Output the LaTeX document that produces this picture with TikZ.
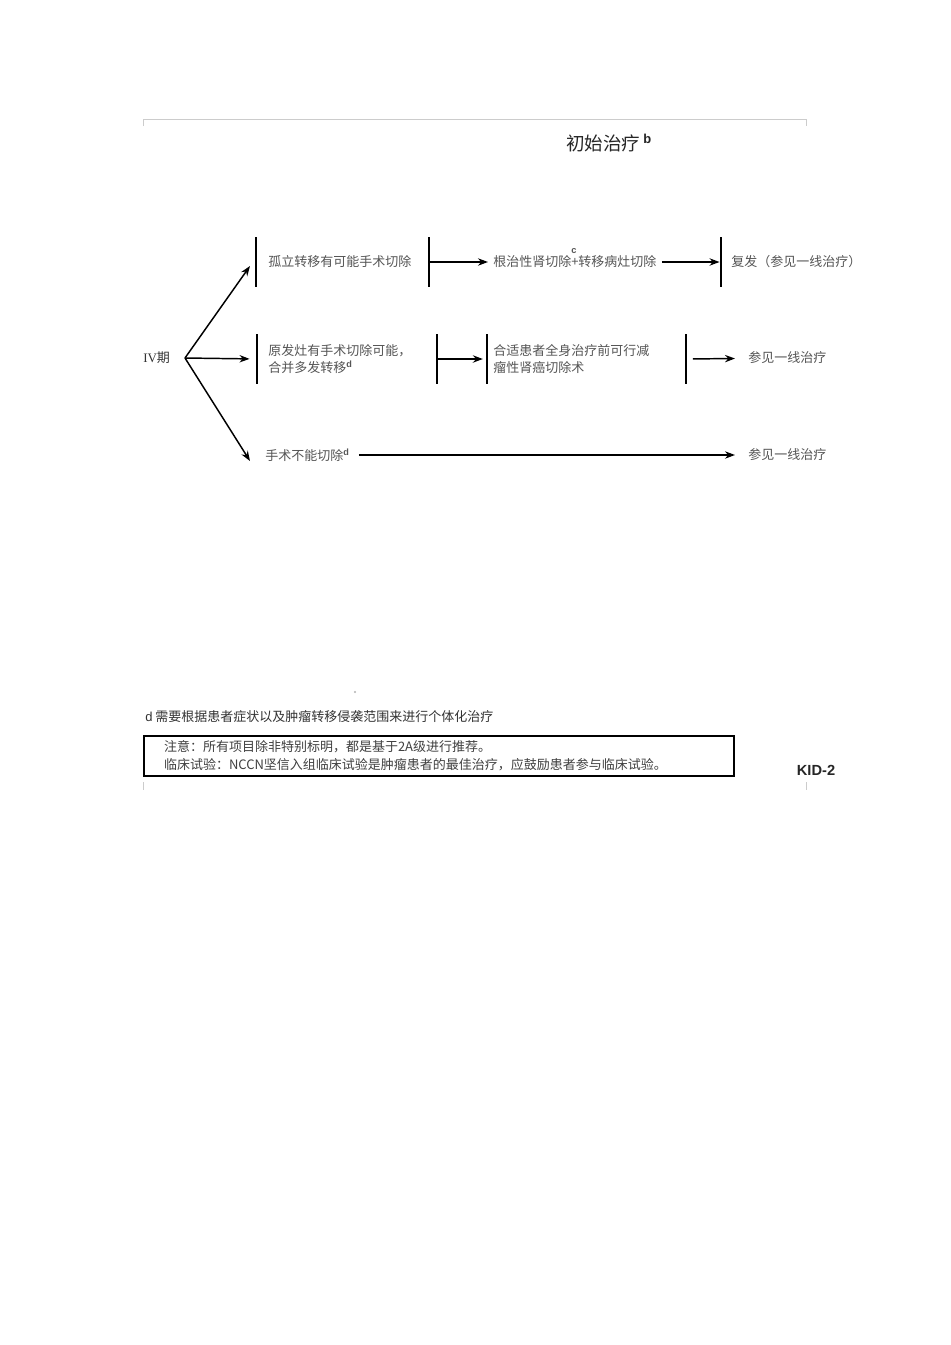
\documentclass[tikz,border=0pt]{standalone}
\usepackage{fontspec}
\setmainfont{Noto Sans CJK SC}
\newfontfamily\arialfont{Liberation Sans}
\newfontfamily\timesfont{Liberation Serif}
\usetikzlibrary{arrows.meta}
\definecolor{txtgray}{HTML}{555555}
\definecolor{framegray}{HTML}{CCCCCC}
\tikzstyle{bar} = [rectangle, fill=black, inner sep=0pt, minimum width=1.8pt, minimum height=37pt]
\tikzstyle{txt} = [anchor=west, inner sep=3.75pt, text=txtgray, font=\fontsize{9.75}{12.75}\selectfont, align=left]
\tikzstyle{arrow} = [line width=1.1pt,-{Stealth[length=7.5pt,width=5.5pt]}]
\newcommand{\supl}[1]{\textsuperscript{\arialfont\bfseries #1}}

\begin{document}
\begin{tikzpicture}[x=0.75pt,y=-0.75pt]
\fill[white] (0,0) rectangle (950,1345);
\useasboundingbox (0,0) rectangle (950,1345);

% Frame
\draw[framegray, line width=0.75pt] (143,126) -- (143,119) -- (806,119) -- (806,126);
\draw[framegray, line width=0.6pt] (143,782) -- (143,790);
\draw[framegray, line width=0.6pt] (806,782) -- (806,790);
\fill[gray!60] (355,692) circle (0.8pt);

% Title
\node (title) [anchor=west, inner sep=0pt, text=black!85, font=\fontsize{13.9}{16}\selectfont] at (566,143) {初始治疗\,\supl{b}};

% Nodes
\node (stage) [txt, inner sep=0pt, text=black!80] at (143,358) {{\timesfont IV}期};
\coordinate (o) at (185,358);
\coordinate (e1) at (250,266);
\coordinate (e3) at (250,461);

% Row 1
\node (b11) [bar] at (256,262) {};
\node (t11) [txt] at (263,262) {孤立转移有可能手术切除};
\node (b12) [bar] at (429,262) {};
\node (t12) [txt] at (488,262) {根治性肾切除\makebox[0pt][l]{\smash{\raisebox{1.9ex}{\arialfont\bfseries\scriptsize c}}}+转移病灶切除};
\node (b13) [bar] at (721,262) {};
\node (t13) [txt] at (726,262) {复发（参见一线治疗）};

% Row 2
\node (b21) [bar] at (257,359) {};
\node (t21) [txt] at (263,359) {原发灶有手术切除可能，\\合并多发转移\supl{d}};
\node (b22) [bar] at (437,359) {};
\node (b23) [bar] at (487,359) {};
\node (t22) [txt] at (488,359) {合适患者全身治疗前可行减\\瘤性肾癌切除术};
\node (b24) [bar] at (686,359) {};
\node (t23) [txt] at (743,358) {参见一线治疗};

% Row 3
\node (t31) [txt] at (260,455) {手术不能切除\supl{d}};
\node (t32) [txt] at (743,455) {参见一线治疗};

% Arrows
\draw [arrow] (o) -- (e1);
\draw [arrow, shorten >=4.5pt] (o) -- (b21);
\draw [arrow] (o) -- (e3);
\draw [arrow] (b12) -- (t12);
\draw [arrow] (t12) -- (b13);
\draw [arrow, shorten >=2pt] (b22) -- (b23);
\draw [arrow, shorten <=4pt, shorten >=6pt] (b24) -- (t23);
\draw [arrow, shorten <=3pt, shorten >=6pt] (t31) -- (t32);

% Footnote and box
\node (note) [anchor=west, inner sep=0pt, text=black!80, font=\fontsize{9.75}{12}\selectfont] at (145,717) {{\arialfont d} 需要根据患者症状以及肿瘤转移侵袭范围来进行个体化治疗};
\node (box) [draw=black, line width=1.5pt, anchor=north west, minimum width=442.5pt, minimum height=30pt, inner xsep=15pt, inner ysep=2pt, text width=412.5pt, align=left, text=black!75, font=\fontsize{9.75}{13.5}\selectfont] at (143,735) {注意：所有项目除非特别标明，都是基于2A级进行推荐。\\临床试验：NCCN坚信入组临床试验是肿瘤患者的最佳治疗，应鼓励患者参与临床试验。};
\node (kid) [text=black!85, font=\arialfont\bfseries\fontsize{11}{13}\selectfont] at (816,770) {KID-2};

\end{tikzpicture}
\end{document}
